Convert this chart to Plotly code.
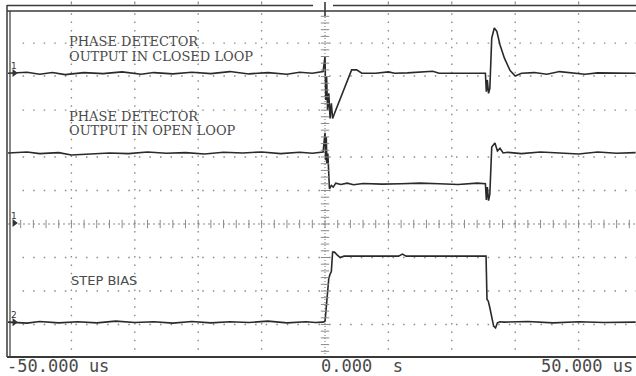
import numpy as np
import plotly.graph_objects as go

# ---------------- data (time in us, amplitude in screen divisions) ----------------
t_closed = [-50, -47, -45, -43, -41, -38, -35, -32, -29, -27, -24, -21, -18, -15, -12, -9, -6, -4, -2, -0.3,
            0.0, 0.12, 0.25, 0.4, 0.6, 0.8, 1.0, 1.2, 1.6, 2.4, 3.3, 4.2, 5.0, 5.8, 8, 10, 11, 13, 17, 18, 20, 24,
            25.3, 25.45, 25.6, 25.8, 26.0, 26.3, 26.7, 27.1, 27.6, 28.3, 29.2, 30.0, 31, 33, 35, 37, 39, 41, 43, 46, 49]
v_closed = [4.50, 4.53, 4.47, 4.52, 4.46, 4.52, 4.49, 4.54, 4.47, 4.52, 4.48, 4.53, 4.49, 4.55, 4.48, 4.52, 4.47, 4.53, 4.50, 4.55,
            5.00, 3.70, 4.40, 3.40, 3.90, 3.15, 3.60, 3.15, 3.35, 3.75, 4.20, 4.60, 4.60, 4.50, 4.50, 4.54, 4.50, 4.51, 4.56, 4.50, 4.50, 4.50,
            4.50, 3.95, 4.30, 3.90, 4.05, 5.55, 5.85, 5.75, 5.35, 4.95, 4.58, 4.42, 4.50, 4.52, 4.47, 4.55, 4.50, 4.47, 4.51, 4.50, 4.50]

t_open = [-50, -47, -45, -42, -40, -37, -34, -31, -28, -25, -22, -19, -16, -13, -10, -7, -4, -2, -0.3,
          0.0, 0.1, 0.2, 0.3, 0.45, 0.7, 1.0, 1.3, 1.7, 2.5, 3.5, 4.5, 6, 9, 12, 15, 18, 21, 24,
          25.3, 25.45, 25.6, 25.8, 26.0, 26.3, 26.8, 27.2, 27.6, 28.1, 28.8, 31, 34, 37, 40, 43, 46, 49]
v_open = [2.12, 2.15, 2.10, 2.13, 2.06, 2.08, 2.12, 2.10, 2.15, 2.11, 2.13, 2.09, 2.14, 2.12, 2.15, 2.10, 2.14, 2.11, 2.15,
          2.72, 1.90, 2.60, 1.80, 2.10, 1.05, 1.15, 1.10, 1.22, 1.18, 1.22, 1.17, 1.21, 1.19, 1.20, 1.22, 1.20, 1.18, 1.22,
          1.20, 0.72, 1.10, 0.70, 0.90, 2.30, 2.42, 2.18, 2.26, 2.12, 2.14, 2.10, 2.15, 2.12, 2.09, 2.15, 2.11, 2.13]

t_step = [-50, -47, -45, -42, -39, -36, -33, -30, -27, -24, -21, -18, -15, -12, -9, -6, -3, -1.5, -0.3,
          0.0, 0.15, 0.3, 0.45, 0.6, 0.8, 1.0, 1.2, 1.5, 1.9, 2.4, 3.0, 7, 11.6, 12.2, 12.8, 18, 25.4,
          25.55, 25.75, 26.0, 26.3, 26.6, 26.9, 27.2, 27.6, 28.2, 32, 36, 40, 44, 49]
v_step = [-2.93, -2.96, -2.91, -2.95, -2.92, -2.95, -2.90, -2.94, -2.92, -2.96, -2.91, -2.95, -2.92, -2.94, -2.90, -2.95, -2.92, -2.94, -2.93,
          -2.90, -2.60, -2.20, -2.00, -1.62, -1.50, -1.42, -0.84, -0.84, -0.92, -1.00, -0.96, -0.96, -0.96, -0.90, -0.96, -0.96, -0.96,
          -2.25, -2.30, -2.50, -2.80, -3.05, -3.10, -2.95, -2.92, -2.93, -2.91, -2.95, -2.92, -2.94, -2.93]

labels_closed = ["PHASE DETECTOR", "OUTPUT IN CLOSED LOOP"]
labels_open = ["PHASE DETECTOR", "OUTPUT IN OPEN LOOP"]
label_step = "STEP BIAS"
time_labels = ["-50.000 us", "0.000  s", "50.000 us"]

# ---------------- geometry ----------------
W, H = 636, 376
ML, MT, MB = 8, 6, 19
PW, PH = W - ML, H - MT - MB          # 628 x 351
US_PX = 6.34                          # pixels per microsecond
DIV_PX = 33.5                         # pixels per vertical division
Y0_PX = 224                           # pixel row of 0 div
XMIN = -50.0
XMAX = XMIN + PW / US_PX
YMAX = (Y0_PX - MT) / DIV_PX
YMIN = YMAX - PH / DIV_PX


def fx(px):
    return (px - ML) / PW


def fy(py):
    return (MT + PH - py) / PH


TRACE = "#2a2a2a"
GRID = "#8a8a8a"
TXT = "#4a4a4a"

fig = go.Figure()
for tt, vv in [(t_closed, v_closed), (t_open, v_open), (t_step, v_step)]:
    fig.add_trace(go.Scatter(x=tt, y=vv, mode="lines", line=dict(color=TRACE, width=1.6),
                             hoverinfo="skip", showlegend=False))

shapes = []
# vertical dotted grid
for tv in [-40, -30, -20, -10, 10, 20, 30, 40]:
    shapes.append(dict(type="line", xref="x", yref="y", x0=tv, x1=tv, y0=-4.0, y1=YMAX - 0.15,
                       line=dict(color=GRID, width=1.4, dash="1.5px,6.875px"), layer="below"))
# horizontal dotted grid (as seen on the screen)
for yv in [5.4, 4.42, 3.4, 2.0, 1.0, -1.0, -2.0, -3.0]:
    shapes.append(dict(type="line", xref="x", yref="y", x0=XMIN + 2.3, x1=XMAX, y0=yv, y1=yv,
                       line=dict(color=GRID, width=1.4, dash="1.5px,9.07px"), layer="below"))
# centre axes
shapes.append(dict(type="line", xref="x", yref="y", x0=0, x1=0, y0=YMIN, y1=YMAX - 0.15,
                   line=dict(color=GRID, width=1.2, dash="1px,2px"), layer="below"))
shapes.append(dict(type="line", xref="x", yref="y", x0=XMIN, x1=XMAX, y0=0, y1=0,
                   line=dict(color=GRID, width=1.2, dash="2px,3px"), layer="below"))
# frame
BORDER = "#3a3a3a"
shapes += [
    dict(type="line", xref="paper", yref="paper", x0=fx(7), x1=fx(7), y0=fy(357), y1=fy(5),
         line=dict(color=BORDER, width=1.5)),
    dict(type="line", xref="paper", yref="paper", x0=fx(10), x1=fx(10), y0=fy(357), y1=fy(11),
         line=dict(color=BORDER, width=1.2)),
    dict(type="line", xref="paper", yref="paper", x0=fx(7), x1=fx(313), y0=fy(5.5), y1=fy(5.5),
         line=dict(color=BORDER, width=1.4)),
    dict(type="line", xref="paper", yref="paper", x0=fx(333), x1=fx(640), y0=fy(5.5), y1=fy(5.5),
         line=dict(color=BORDER, width=1.4)),
    dict(type="line", xref="paper", yref="paper", x0=fx(7), x1=fx(640), y0=fy(11), y1=fy(11),
         line=dict(color=BORDER, width=1.4)),
    dict(type="line", xref="paper", yref="paper", x0=fx(325), x1=fx(325), y0=fy(16), y1=fy(2),
         line=dict(color=BORDER, width=1.6)),
    dict(type="line", xref="paper", yref="paper", x0=fx(7), x1=fx(640), y0=fy(357), y1=fy(357),
         line=dict(color=BORDER, width=1.8)),
]
# small ticks above the frame at each vertical grid position
for tv in [-40, -30, -20, -10, 10, 20, 30, 40]:
    shapes.append(dict(type="line", xref="x", yref="paper", x0=tv, x1=tv, y0=fy(4.5), y1=fy(1.5),
                       line=dict(color=GRID, width=1.2)))

# cross ticks on the centre axes
vt = np.arange(-3.8, YMAX - 0.3, 0.2)
fig.add_trace(go.Scatter(x=np.zeros_like(vt), y=vt, mode="markers",
                         marker=dict(symbol="line-ew", size=6, line=dict(color=GRID, width=1)),
                         hoverinfo="skip", showlegend=False))
ht = np.arange(-48, XMAX, 2.0)
fig.add_trace(go.Scatter(x=ht, y=np.zeros_like(ht), mode="markers",
                         marker=dict(symbol="line-ns", size=6, line=dict(color=GRID, width=1)),
                         hoverinfo="skip", showlegend=False))

# ground markers
for yv, lab in [(4.51, "1"), (0.03, "1"), (-2.93, "2")]:
    fig.add_trace(go.Scatter(x=[XMIN + 1.0], y=[yv], mode="markers",
                             marker=dict(symbol="triangle-right", size=7, color="#333"),
                             hoverinfo="skip", showlegend=False))

annotations = []
for yv, lab in [(4.51, "1"), (0.03, "1"), (-2.93, "2")]:
    annotations.append(dict(xref="x", yref="y", x=XMIN + 1.0, y=yv + 0.22, text=lab, showarrow=False,
                            font=dict(family="DejaVu Sans", size=9, color="#333"), xanchor="center",
                            yanchor="middle"))

SERIF = "DejaVu Serif"
for i, s in enumerate(labels_closed):
    annotations.append(dict(xref="paper", yref="paper", x=fx(67), y=fy(42 + 14.5 * i), text=s, showarrow=False,
                            xanchor="left", yanchor="middle", font=dict(family=SERIF, size=13, color=TXT)))
for i, s in enumerate(labels_open):
    annotations.append(dict(xref="paper", yref="paper", x=fx(67), y=fy(116 + 14.5 * i), text=s, showarrow=False,
                            xanchor="left", yanchor="middle", font=dict(family=SERIF, size=13, color=TXT)))
annotations.append(dict(xref="paper", yref="paper", x=fx(69), y=fy(280), text=label_step, showarrow=False,
                        xanchor="left", yanchor="middle", font=dict(family="DejaVu Sans", size=13, color=TXT)))

MONO = "DejaVu Sans Mono"
annotations.append(dict(xref="paper", yref="paper", x=fx(5), y=fy(366), text=time_labels[0], showarrow=False,
                        xanchor="left", yanchor="middle", font=dict(family=MONO, size=17, color=TXT)))
annotations.append(dict(xref="paper", yref="paper", x=fx(319), y=fy(366), text=time_labels[1], showarrow=False,
                        xanchor="left", yanchor="middle", font=dict(family=MONO, size=17, color=TXT)))
annotations.append(dict(xref="paper", yref="paper", x=fx(635), y=fy(366), text=time_labels[2], showarrow=False,
                        xanchor="right", yanchor="middle", font=dict(family=MONO, size=17, color=TXT)))

fig.update_layout(
    width=W, height=H,
    margin=dict(l=ML, r=0, t=MT, b=MB, pad=0),
    paper_bgcolor="white", plot_bgcolor="white",
    xaxis=dict(range=[XMIN, XMAX], visible=False, fixedrange=True),
    yaxis=dict(range=[YMIN, YMAX], visible=False, fixedrange=True),
    shapes=shapes, annotations=annotations, showlegend=False,
)

fig.write_html("out.html", config={"displayModeBar": False})
